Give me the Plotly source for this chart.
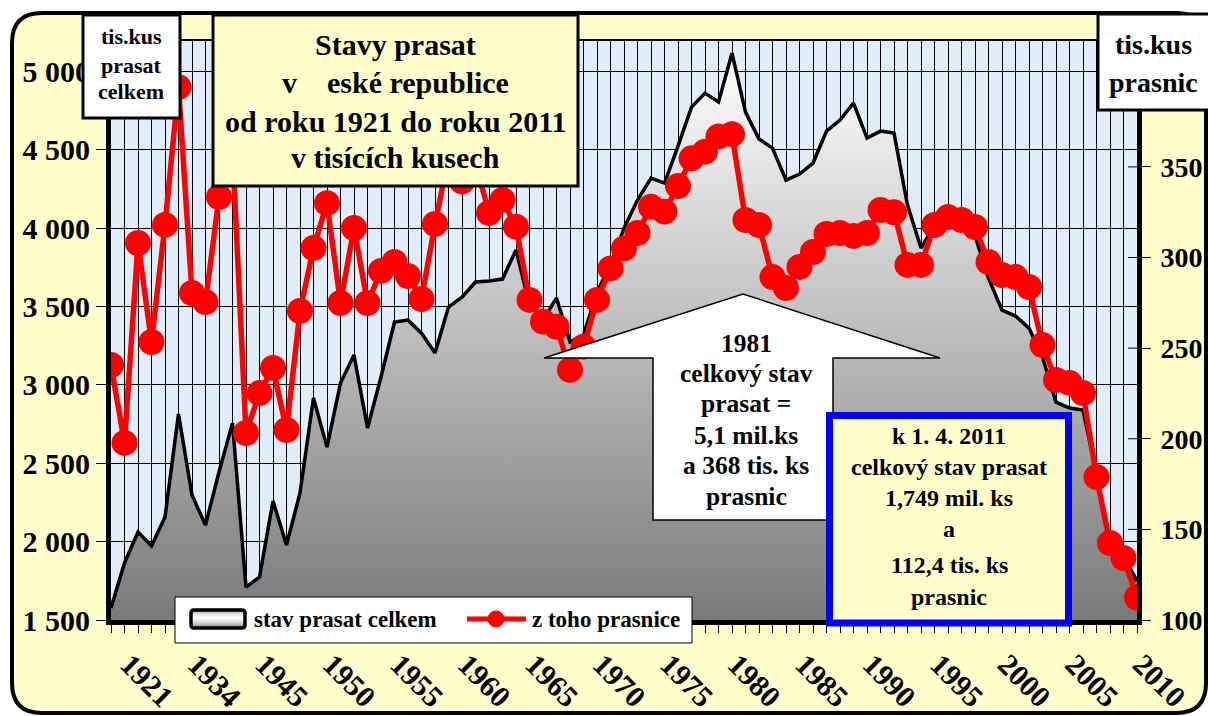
import plotly.graph_objects as go

# ---------------- data ----------------
years = ["1921", "1925", "1927", "1929", "1931", "1934", "1936", "1937", "1938", "1939",
         "1945", "1946", "1947", "1948", "1949", "1950", "1951", "1952", "1953", "1954",
         "1955", "1956", "1957", "1958", "1959", "1960", "1961", "1962", "1963", "1964",
         "1965", "1966", "1967", "1968", "1969", "1970", "1971", "1972", "1973", "1974",
         "1975", "1976", "1977", "1978", "1979", "1980", "1981", "1982", "1983", "1984",
         "1985", "1986", "1987", "1988", "1989", "1990", "1991", "1992", "1993", "1994",
         "1995", "1996", "1997", "1998", "1999", "2000", "2001", "2002", "2003", "2004",
         "2005", "2006", "2007", "2008", "2009", "2010", "2011"]

# total pig stock (thousands)
total = [1577, 1864, 2061, 1972, 2157, 2814, 2297, 2106, 2444, 2756,
         1710, 1774, 2259, 1978, 2310, 2916, 2603, 3012, 3190, 2725,
         3050, 3401, 3413, 3330, 3203, 3496, 3560, 3656, 3662, 3675,
         3860, 3509, 3413, 3554, 3273, 3318, 3592, 3764, 4000, 4179,
         4319, 4287, 4523, 4772, 4861, 4804, 5116, 4740, 4568, 4510,
         4306, 4345, 4415, 4619, 4689, 4797, 4574, 4619, 4606, 4147,
         3873, 4016, 4080, 4013, 3950, 3681, 3477, 3439, 3362, 3177,
         2890, 2852, 2839, 2433, 1971, 1909, 1749]

# of which sows (thousands)
sows = [240.7, 197.7, 308, 253.4, 318, 394, 280.4, 275.4, 333.4, 360,
        203.2, 225.2, 239, 204.8, 270.5, 305.2, 330, 274.9, 316.3, 274.9,
        292.6, 297.5, 289.8, 277.1, 318.5, 355, 342, 352, 324.6, 331.7,
        317, 276.6, 264.6, 261.8, 238, 250.8, 276.6, 294, 305, 313.5,
        328, 325.3, 339.4, 354.7, 358.4, 366.7, 368, 320.7, 317.9, 289.2,
        283.2, 294.8, 303, 313, 313.5, 311.9, 313.5, 326.2, 325, 295.9,
        295.9, 317.9, 322.3, 320.7, 316.8, 297.5, 290.3, 289.2, 283.7, 251.7,
        232.4, 230.8, 225.2, 178.9, 142.5, 134.2, 112.4]

x_labels_shown = ["1921", "1934", "1945", "1950", "1955", "1960", "1965", "1970", "1975",
                  "1980", "1985", "1990", "1995", "2000", "2005", "2010"]

left_tickvals = [1500, 2000, 2500, 3000, 3500, 4000, 4500, 5000]
left_ticktext = ["1 500", "2 000", "2 500", "3 000", "3 500", "4 000", "4 500", "5 000"]
right_tickvals = [100, 150, 200, 250, 300, 350]

series_names = ["stav prasat celkem", "z toho prasnice"]
title_lines = ["Stavy prasat", "v\u00a0\u00a0\u00a0\u00a0eské republice",
               "od roku 1921 do roku 2011", "v tisících kusech"]
left_unit_lines = ["tis.kus", "prasat", "celkem"]
right_unit_lines = ["tis.kus", "prasnic"]
arrow_lines = ["1981", "celkový stav", "prasat =", "5,1 mil.ks", "a 368 tis. ks", "prasnic"]
box_lines = ["k 1. 4. 2011", "celkový stav prasat", "1,749 mil. ks", "a", "112,4 tis. ks", "prasnic"]

# ---------------- geometry helpers (pixel -> paper) ----------------
W, H = 1208, 716
L, R, T, B = 111, 1137, 40, 620


def px(x):
    return (x - L) / (R - L)


def py(y):
    return (B - y) / (B - T)


def P(x, y):
    return f"{px(x):.5f},{py(y):.5f}"


def rounded_path(x0, y0, x1, y1, r):
    return (f"M{P(x0 + r, y0)} L{P(x1 - r, y0)} Q{P(x1, y0)} {P(x1, y0 + r)} "
            f"L{P(x1, y1 - r)} Q{P(x1, y1)} {P(x1 - r, y1)} "
            f"L{P(x0 + r, y1)} Q{P(x0, y1)} {P(x0, y1 - r)} "
            f"L{P(x0, y0 + r)} Q{P(x0, y0)} {P(x0 + r, y0)} Z")


FONT = "Liberation Serif, Times New Roman, serif"

fig = go.Figure()

fig.add_trace(go.Scatter(
    x=years, y=total, name=series_names[0], mode="lines", showlegend=False,
    line=dict(color="black", width=3.5),
    fill="tozeroy",
    fillgradient=dict(type="vertical", start=1500, stop=5150,
                      colorscale=[[0, "#7a7a7a"], [1, "#ffffff"]]),
))
fig.add_trace(go.Scatter(
    x=years, y=sows, name=series_names[1], mode="lines+markers", yaxis="y2", showlegend=False,
    line=dict(color="#FF0000", width=5.5),
    marker=dict(color="#FF0000", size=26),
))

ticktext_x = [y if y in x_labels_shown else "" for y in years]


def rect(x0, y0, x1, y1, fill, lc, lw):
    return dict(type="rect", xref="paper", yref="paper", layer="above",
                x0=px(x0), x1=px(x1), y0=py(y0), y1=py(y1),
                fillcolor=fill, line=dict(color=lc, width=lw))


shapes = []
# white corners outside rounded frame
FX0, FY0, FX1, FY1 = 12, 13, 1206, 713
outer = f"M{P(-5, -5)} L{P(W + 5, -5)} L{P(W + 5, H + 5)} L{P(-5, H + 5)} Z "
shapes.append(dict(type="path", xref="paper", yref="paper", layer="above",
                   path=outer + rounded_path(FX0, FY0, FX1, FY1, 30),
                   fillcolor="white", fillrule="evenodd", line=dict(width=0)))
# frame
shapes.append(dict(type="path", xref="paper", yref="paper", layer="above",
                   path=rounded_path(FX0, FY0, FX1, FY1, 30),
                   line=dict(color="black", width=4)))
# plot top border
shapes.append(dict(type="line", xref="paper", yref="paper", layer="above",
                   x0=px(L), x1=px(R), y0=py(T), y1=py(T),
                   line=dict(color="black", width=2)))
# right axis ticks crossing inward
for v in right_tickvals[1:]:
    yy = B - (v - 100) * (B - T) / 320
    shapes.append(dict(type="line", xref="paper", yref="paper", layer="above",
                       x0=px(R - 9), x1=px(R), y0=py(yy), y1=py(yy),
                       line=dict(color="black", width=1)))
# title box, unit boxes
shapes.append(rect(213, 15, 578, 186, "#FFFFCC", "black", 3))
shapes.append(rect(83, 15, 180, 118, "white", "black", 3))
shapes.append(rect(1098, 14, 1214, 110, "white", "black", 3))
# arrow callout
arrow_pts = [(743, 294), (940, 358), (833, 358), (833, 520), (653, 520), (653, 358), (544, 358)]
arrow_path = "M" + " L".join(P(a, b) for a, b in arrow_pts) + " Z"
shapes.append(dict(type="path", xref="paper", yref="paper", layer="above",
                   path=arrow_path, fillcolor="white", line=dict(color="black", width=1.5)))
# blue box
shapes.append(rect(829.5, 415.5, 1068.5, 623, "#FFFFCC", "#0000FF", 7))

# legend (drawn as key box)
shapes.append(rect(175, 597, 692, 643, "white", "black", 1))
sw_x0, sw_x1, sw_y0, sw_y1 = 191, 245, 610, 628
grad = ["#9a9a9a", "#c8c8c8", "#e8e8e8", "#f8f8f8", "#ffffff", "#f0f0f0",
        "#dcdcdc", "#c4c4c4", "#aaaaaa", "#909090"]
step = (sw_y1 - sw_y0) / len(grad)
for i, c in enumerate(grad):
    shapes.append(dict(type="rect", xref="paper", yref="paper", layer="above",
                       x0=px(sw_x0), x1=px(sw_x1), y0=py(sw_y0 + i * step), y1=py(sw_y0 + (i + 1) * step + 0.5),
                       fillcolor=c, line=dict(width=0)))
shapes.append(dict(type="path", xref="paper", yref="paper", layer="above",
                   path=rounded_path(sw_x0, sw_y0, sw_x1, sw_y1, 3),
                   line=dict(color="black", width=3.5)))
shapes.append(dict(type="line", xref="paper", yref="paper", layer="above",
                   x0=px(467), x1=px(526), y0=py(619), y1=py(619),
                   line=dict(color="#FF0000", width=5)))
shapes.append(dict(type="circle", xref="paper", yref="paper", layer="above",
                   x0=px(488), x1=px(504), y0=py(611), y1=py(627),
                   fillcolor="#FF0000", line=dict(color="#FF0000", width=1)))

annotations = []


def add_lines(lines, xc, ys, size, xanchor="center"):
    for t, yy in zip(lines, ys):
        annotations.append(dict(text=t, x=px(xc), y=py(yy), xref="paper", yref="paper",
                                showarrow=False, xanchor=xanchor, yanchor="middle",
                                font=dict(family=FONT, size=size, color="black", weight="bold")))


add_lines(title_lines, 395.5, [45, 83, 121, 158], 30)
add_lines(left_unit_lines, 131, [37, 65, 92], 22)
add_lines(right_unit_lines, 1153, [44, 82], 28)
add_lines(arrow_lines, 746, [343, 373, 404, 435, 465, 496], 25.5)
add_lines(box_lines, 949, [436, 467, 498, 529, 565, 597], 24)
add_lines([series_names[0]], 252, [619], 23, xanchor="left")
add_lines([series_names[1]], 530, [619], 23, xanchor="left")

fig.update_layout(
    width=W, height=H,
    margin=dict(l=L, r=W - R, t=T, b=H - B, autoexpand=False),
    paper_bgcolor="#FFFFCC",
    plot_bgcolor="#E0EDF9",
    showlegend=False,
    xaxis=dict(type="category", range=[0, len(years) - 1], automargin=False,
               tickmode="array", tickvals=years, ticktext=ticktext_x,
               tickangle=45, ticks="outside", ticklen=8, tickwidth=1, tickcolor="black",
               showline=True, linecolor="black", linewidth=5,
               showgrid=True, gridcolor="black", gridwidth=1,
               ticklabelstandoff=2, ticklabelshift=18,
               tickfont=dict(family=FONT, size=30, color="black", weight="bold")),
    yaxis=dict(range=[1500, 5200], tickmode="array", tickvals=left_tickvals, ticktext=left_ticktext,
               automargin=False,
               ticks="outside", ticklen=10, tickwidth=1, tickcolor="black",
               showline=True, linecolor="black", linewidth=5,
               showgrid=True, gridcolor="black", gridwidth=1, zeroline=False,
               ticklabelstandoff=0,
               tickfont=dict(family=FONT, size=30, color="black", weight="bold")),
    yaxis2=dict(range=[100, 420], overlaying="y", side="right", automargin=False,
                tickmode="array", tickvals=right_tickvals,
                ticks="outside", ticklen=9, tickwidth=1, tickcolor="black",
                showline=True, linecolor="black", linewidth=5,
                showgrid=False, zeroline=False, ticklabelstandoff=4,
                tickfont=dict(family=FONT, size=28, color="black", weight="bold")),
    shapes=shapes,
    annotations=annotations,
)

fig.write_html("out.html", config={"displayModeBar": False},
               post_script="document.body.style.margin='0';document.body.style.overflow='hidden';")
